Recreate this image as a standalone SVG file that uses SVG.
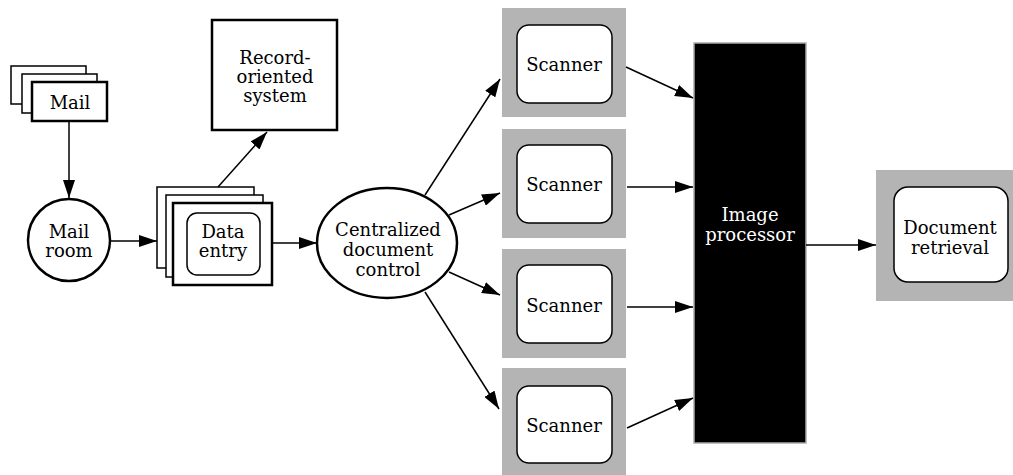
<svg xmlns="http://www.w3.org/2000/svg" width="1013" height="475" viewBox="0 0 1013 475">
<style>
text{font-family:"DejaVu Serif","Liberation Serif",serif;font-size:18px;fill:#000;text-anchor:middle}
.w{fill:#fff}
.box{fill:#fff;stroke:#000;stroke-width:1.5}
.thick{fill:#fff;stroke:#000;stroke-width:2.5}
.panel{fill:#b4b4b4}
.inner{fill:#fff;stroke:#000;stroke-width:1.5}
.conn line{stroke:#000;stroke-width:1.5;marker-end:url(#ah)}
</style>
<defs>
<marker id="ah" markerUnits="userSpaceOnUse" markerWidth="18" markerHeight="12" refX="18" refY="6" orient="auto">
<path d="M0,0 L18,6 L0,12 z" fill="#000"/>
</marker>
</defs>
<rect width="1013" height="475" fill="#fff"/>
<g id="mail">
<rect class="box" x="11" y="66" width="75" height="38"/>
<rect class="box" x="22" y="74" width="75" height="39"/>
<rect class="thick" x="32" y="82" width="75" height="39"/>
<text x="70" y="109">Mail</text>
</g>
<g id="mailroom">
<circle cx="69" cy="240" r="41" fill="#fff" stroke="#000" stroke-width="2.5"/>
<text x="69" y="238">Mail</text>
<text x="69" y="257">room</text>
</g>
<g id="dataentry">
<rect class="box" x="157" y="187" width="97" height="81"/>
<rect class="box" x="166" y="195" width="97" height="82"/>
<rect class="thick" x="173" y="203" width="99" height="82"/>
<rect class="inner" x="187" y="213" width="73" height="62" rx="10"/>
<text x="223" y="238">Data</text>
<text x="223" y="257">entry</text>
</g>
<g id="record">
<rect class="thick" x="212" y="20" width="125" height="110"/>
<text x="275" y="64">Record-</text>
<text x="275" y="83">oriented</text>
<text x="275" y="102">system</text>
</g>
<g id="central">
<ellipse cx="387" cy="243" rx="70" ry="55" fill="#fff" stroke="#000" stroke-width="2.5"/>
<text x="388" y="236">Centralized</text>
<text x="388" y="256">document</text>
<text x="388" y="276">control</text>
</g>
<g id="scanner1">
<rect class="panel" x="502" y="8" width="124" height="109"/>
<rect class="inner" x="517" y="25" width="95" height="78" rx="12"/>
<text x="564" y="71">Scanner</text>
</g>
<g id="scanner2">
<rect class="panel" x="502" y="129" width="124" height="109"/>
<rect class="inner" x="517" y="145" width="95" height="78" rx="12"/>
<text x="564" y="191">Scanner</text>
</g>
<g id="scanner3">
<rect class="panel" x="502" y="249" width="124" height="109"/>
<rect class="inner" x="517" y="265" width="95" height="78" rx="12"/>
<text x="564" y="312">Scanner</text>
</g>
<g id="scanner4">
<rect class="panel" x="502" y="368" width="124" height="107"/>
<rect class="inner" x="517" y="386" width="95" height="77" rx="12"/>
<text x="564" y="432">Scanner</text>
</g>
<g id="imageproc">
<rect x="694" y="43" width="112" height="400" fill="#000" stroke="#aaa" stroke-width="1.5"/>
<text class="w" x="750" y="221">Image</text>
<text class="w" x="750" y="241">processor</text>
</g>
<g id="docretrieval">
<rect class="panel" x="876" y="170" width="137" height="131"/>
<rect class="inner" x="894" y="187" width="114" height="95" rx="14"/>
<text x="950" y="234">Document</text>
<text x="950" y="254">retrieval</text>
</g>
<g class="conn" id="connectors">
<line x1="69" y1="121" x2="69" y2="198"/>
<line x1="110" y1="241" x2="157" y2="241"/>
<line x1="218" y1="187" x2="267" y2="132"/>
<line x1="272" y1="243" x2="317" y2="243"/>
<line x1="425" y1="195" x2="500" y2="79"/>
<line x1="449" y1="215" x2="500" y2="193"/>
<line x1="449" y1="272" x2="500" y2="295"/>
<line x1="425" y1="292" x2="499" y2="409"/>
<line x1="626" y1="67" x2="693" y2="98"/>
<line x1="627" y1="187" x2="693" y2="187"/>
<line x1="627" y1="307" x2="693" y2="307"/>
<line x1="627" y1="428" x2="693" y2="398"/>
<line x1="806" y1="245" x2="876" y2="245"/>
</g>
</svg>
